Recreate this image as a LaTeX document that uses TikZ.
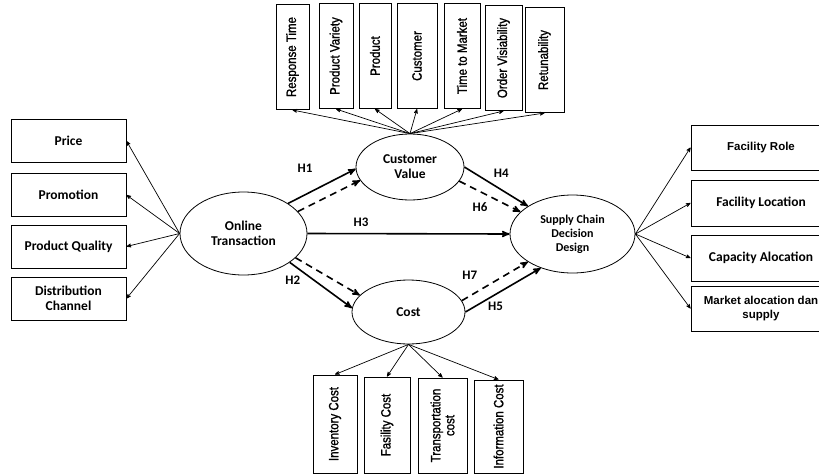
\documentclass[tikz,border=0pt]{standalone}
\usepackage{fontspec}
\setmainfont{Carlito}
\newfontfamily\arialfont{Liberation Sans}
\newfontfamily\narrowfont{Liberation Sans}[FakeStretch=0.85,FakeBold=1.2]
\usetikzlibrary{shapes.geometric,positioning,arrows}

\begin{document}
\begin{tikzpicture}[>=stealth',x=1pt,y=-1pt,semithick,font=\fontsize{13.5}{15}\selectfont\bfseries]
  \tikzstyle{construct}=[ellipse,draw,line width=0.8pt,inner sep=0pt,align=center]
  \tikzstyle{indic}=[rectangle,draw,line width=1pt,align=center,minimum width=115pt,minimum height=43pt]
  \tikzstyle{vindic}=[rectangle,draw,line width=1pt,rotate=90,align=center,minimum width=105pt,
    font=\narrowfont\mdseries\fontsize{13.5}{14}\selectfont]
  \tikzstyle{load}=[->,line width=0.7pt]
  \tikzstyle{hyp}=[->,line width=1.6pt]
  \tikzstyle{med}=[->,line width=1.6pt,dash pattern=on 7pt off 5pt]
  \tikzstyle{hlab}=[inner sep=1pt,font=\fontsize{13}{15}\selectfont\bfseries]

  \useasboundingbox (0,0) rectangle (819,474);

  % Constructs
  \node[construct, minimum width=127pt, minimum height=83pt] (ot) at (243.5,233.5) {Online\\Transaction};
  \node[construct, minimum width=108pt, minimum height=66pt] (cv) at (410,167) {Customer\\Value};
  \node[construct, minimum width=113pt, minimum height=64pt] (cost) at (408.5,312) {Cost};
  \node[construct, minimum width=125pt, minimum height=78pt, font=\fontsize{12}{14}\selectfont\bfseries]
    (scd) at (572.5,234) {Supply Chain\\Decision\\Design};

  % Left block (Online Transaction)
  \node[indic] (price) at (68.5,141) {Price};
  \node[indic] (promo) at (68.5,195) {Promotion};
  \node[indic] (pquality) at (68.5,246.5) {Product Quality};
  \node[indic] (distrib) at (68.5,298.5) {Distribution\\Channel};

  % Top block (Customer Value)
  \node[vindic, minimum height=33pt] (resp) at (292.5,57) {Response Time};
  \node[vindic, minimum height=34pt] (variety) at (336,56) {Product Variety};
  \node[vindic, minimum height=32pt] (product) at (375,56) {Product};
  \node[vindic, minimum height=40pt] (customer) at (417,56) {Customer};
  \node[vindic, minimum height=36pt] (market) at (462,56) {Time to Market};
  \node[vindic, minimum height=37pt] (visib) at (503.5,58) {Order Visiability};
  \node[vindic, minimum height=39pt] (retun) at (544.5,60) {Retunability};

  % Bottom block (Cost)
  \node[vindic, minimum width=98pt, minimum height=44pt] (inv) at (335,424) {Inventory Cost};
  \node[vindic, minimum width=96pt, minimum height=46pt] (facil) at (387,425) {Fasility Cost};
  \node[vindic, minimum width=95pt, minimum height=49pt] (transp) at (442.5,425.5) {Transportation\\cost};
  \node[vindic, minimum width=93pt, minimum height=49pt] (info) at (498.5,426.5) {Information Cost};

  % Right block (Supply Chain Decision Design)
  \node[indic, minimum width=140pt, minimum height=45pt, font=\arialfont\bfseries\fontsize{11.5}{13}\selectfont]
    (frole) at (761,147.5) {Facility Role};
  \node[indic, minimum width=140pt, minimum height=46pt] (floc) at (761,203) {Facility Location};
  \node[indic, minimum width=140pt, minimum height=46pt] (capac) at (761,258) {Capacity Alocation};
  \node[indic, minimum width=140pt, minimum height=45pt, font=\arialfont\bfseries\fontsize{11.5}{13.5}\selectfont]
    (malloc) at (761,308.5) {Market alocation dan\\supply};

  % Indicator loadings
  \path[load]
    (ot.west) edge (price.east)
    (ot.west) edge (promo.east)
    (ot.west) edge (pquality.east)
    (ot.west) edge (distrib.east);
  \path[load]
    (cv.north) edge (resp.west)
    (cv.north) edge (variety.west)
    (cv.north) edge (product.west)
    (cv.north) edge (customer.west)
    (cv.north) edge (market.west)
    (cv.north) edge (visib.west)
    (cv.north) edge (retun.west);
  \path[load]
    (cost.south) edge (inv.east)
    (cost.south) edge (facil.east)
    (cost.south) edge (transp.east)
    (cost.south) edge (info.east);
  \path[load]
    (scd.east) edge (frole.west)
    (scd.east) edge (floc.west)
    (scd.east) edge (capac.west)
    (scd.east) edge (malloc.west);

  % Hypotheses
  \path[hyp]
    (ot.34) edge node[hlab, pos=0.25, above=21pt] {H1} (cv.182)
    (ot.-32) edge node[hlab, pos=0.05, below=9pt] {H2} (cost.176)
    (ot.0) edge node[hlab, pos=0.265, above=5pt] {H3} (scd.180)
    (cv.0) edge node[hlab, pos=0.58, above=10.5pt] {H4} (scd.148.6)
    (cost.0) edge node[hlab, pos=0.4, below=5.5pt] {H5} (scd.227.8);

  % Mediation (dashed)
  \path[med]
    (ot.22.8) edge (cv.195.6)
    (ot.-25.4) edge (cost.161)
    (cv.-16) edge node[hlab, pos=0.34, below=9pt] {H6} (scd.157)
    (cost.12.6) edge node[hlab, pos=0.12, above=15pt] {H7} (scd.212.5);
\end{tikzpicture}
\end{document}
